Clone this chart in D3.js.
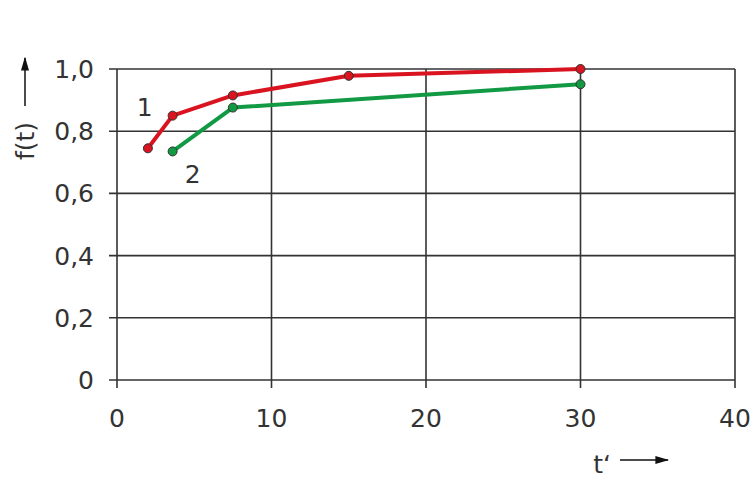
<!DOCTYPE html>
<html><head><meta charset="utf-8">
<script src="https://cdn.jsdelivr.net/npm/d3@7"></script>
<style>body{margin:0;background:#fff}svg{display:block}text{font-family:"DejaVu Sans",sans-serif;fill:#333}</style>
</head><body>
<script>
const xTicks = [0, 10, 20, 30, 40];
const yTicks = [0, 0.2, 0.4, 0.6, 0.8, 1.0];
const series1X = [2, 3.6, 7.5, 15, 30];
const series1Y = [0.745, 0.85, 0.915, 0.978, 1.0];
const series2X = [3.6, 7.5, 30];
const series2Y = [0.735, 0.876, 0.951];
const seriesLabels = ["1", "2"];

const W = 755, H = 488;
const FS = 25;
const svg = d3.select("body").append("svg").attr("width", W).attr("height", H);
const x = d3.scaleLinear().domain([0, 40]).range([117, 735]);
const y = d3.scaleLinear().domain([0, 1]).range([380, 69]);
const fmt = d => d === 0 ? "0" : d3.format(".1f")(d).replace(".", ",");

const g = svg.append("g");
// grid
g.selectAll(".gx").data(xTicks).join("line")
  .attr("x1", d => x(d)).attr("x2", d => x(d)).attr("y1", y(1)).attr("y2", y(0) + 8)
  .attr("stroke", "#333").attr("stroke-width", 1.6);
g.selectAll(".gy").data(yTicks).join("line")
  .attr("y1", d => y(d)).attr("y2", d => y(d)).attr("x1", x(0) - 8).attr("x2", x(40))
  .attr("stroke", "#333").attr("stroke-width", 1.6);
// tick labels
g.selectAll(".tx").data(xTicks).join("text")
  .attr("x", d => x(d)).attr("y", y(0) + 47).attr("text-anchor", "middle")
  .attr("font-size", FS).text(d => d);
g.selectAll(".ty").data(yTicks).join("text")
  .attr("x", x(0) - 23).attr("y", d => y(d) + 9).attr("text-anchor", "end")
  .attr("font-size", FS).text(fmt);

// axis titles with arrows
svg.append("defs").append("marker").attr("id", "ah").attr("viewBox", "0 0 10 10")
  .attr("refX", 9).attr("refY", 5).attr("markerWidth", 14).attr("markerHeight", 8)
  .attr("markerUnits", "userSpaceOnUse").attr("orient", "auto").attr("preserveAspectRatio", "none")
  .append("path").attr("d", "M0,0L10,5L0,10Z").attr("fill", "#111");
svg.append("text").attr("transform", "translate(34,141) rotate(-90)")
  .attr("text-anchor", "middle").attr("font-size", FS).text("f(t)");
svg.append("line").attr("x1", 25).attr("x2", 25).attr("y1", 106).attr("y2", 58)
  .attr("stroke", "#111").attr("stroke-width", 1.5).attr("marker-end", "url(#ah)");
svg.append("text").attr("x", 602).attr("y", 473).attr("text-anchor", "middle")
  .attr("font-size", FS).text("t‘");
svg.append("line").attr("x1", 620).attr("x2", 668).attr("y1", 460).attr("y2", 460)
  .attr("stroke", "#111").attr("stroke-width", 1.5).attr("marker-end", "url(#ah)");

const line = d3.line().x(d => x(d[0])).y(d => y(d[1]));
const s1 = series1X.map((v, i) => [v, series1Y[i]]);
const s2 = series2X.map((v, i) => [v, series2Y[i]]);
[[s2, "#119944"], [s1, "#d9131f"]].forEach(([data, c]) => {
  svg.append("path").datum(data).attr("d", line).attr("fill", "none")
    .attr("stroke", c).attr("stroke-width", 4).attr("stroke-linejoin", "round");
  svg.selectAll(null).data(data).join("circle")
    .attr("cx", d => x(d[0])).attr("cy", d => y(d[1])).attr("r", 4.5)
    .attr("fill", c).attr("stroke", "#333").attr("stroke-width", 1);
});
svg.append("text").attr("x", x(1.8)).attr("y", y(0.848)).attr("text-anchor", "middle")
  .attr("font-size", FS).text(seriesLabels[0]);
svg.append("text").attr("x", x(4.9)).attr("y", y(0.635)).attr("text-anchor", "middle")
  .attr("font-size", FS).text(seriesLabels[1]);
</script>
</body></html>
